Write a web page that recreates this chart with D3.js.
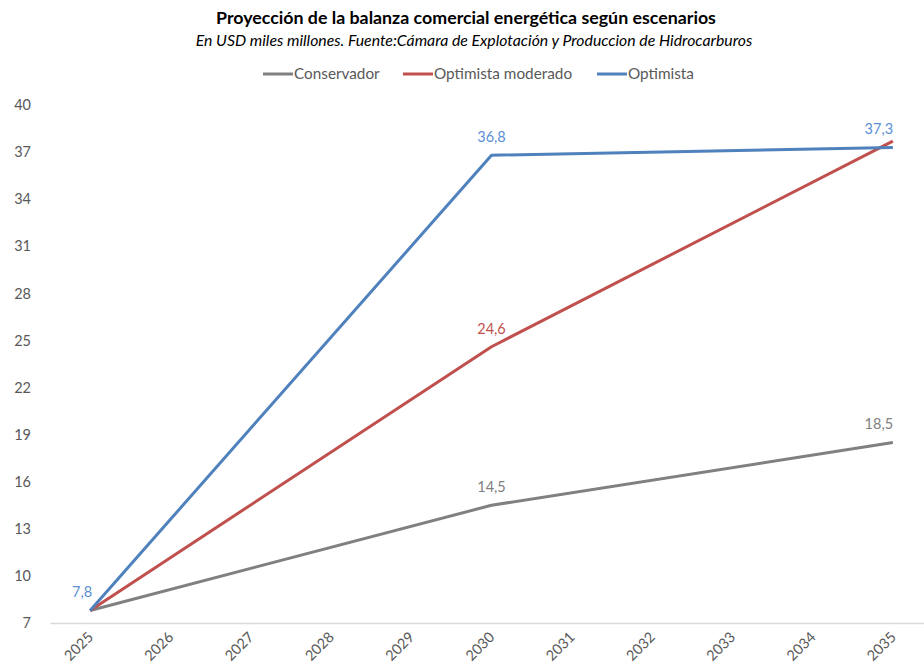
<!DOCTYPE html>
<html><head><meta charset="utf-8">
<script src="https://cdn.jsdelivr.net/npm/d3@7"></script>
<style>
html,body{margin:0;padding:0;background:#fff;}
svg{display:block;font-family:Lato,"Open Sans",sans-serif;}
</style></head>
<body><svg id="c" width="924" height="669"></svg>
<script>
const years = ["2025","2026","2027","2028","2029","2030","2031","2032","2033","2034","2035"];
const yTicks = [7,10,13,16,19,22,25,28,31,34,37,40];
const seriesNames = ["Conservador","Optimista moderado","Optimista"];
const seriesColors = ["#808080","#C0504D","#4F81BD"];
const labelColors = ["#808080","#C0504D","#5B8FD5"];
const pointYears = ["2025","2030","2035"];
const conservador = [7.8, 14.5, 18.5];
const optimistaModerado = [7.8, 24.6, 37.7];
const optimista = [7.8, 36.8, 37.3];
// which points carry labels (by index into pointYears)
const labelled = [[1,2],[1],[0,1,2]];

const svg = d3.select("#c");
const W = 924, H = 669;
const m = {left:50, right:-9, top:105, bottom:46};
const x = d3.scaleBand().domain(years).range([m.left, W - m.right]);
const y = d3.scaleLinear().domain([7,40]).range([623,105]);
const fmt = d3.formatLocale({decimal:",",thousands:".",grouping:[3],currency:["",""]}).format(".1f");

// title
svg.append("text").attr("x",466).attr("y",24).attr("text-anchor","middle")
  .attr("font-size",17.8).attr("font-weight","bold").attr("fill","#000")
  .text("Proyección de la balanza  comercial energética según escenarios");
svg.append("text").attr("x",474).attr("y",46).attr("text-anchor","middle")
  .attr("font-size",15.8).attr("font-style","italic").attr("fill","#000")
  .text("En USD miles millones. Fuente:Cámara de Explotación y Produccion de Hidrocarburos");

// legend
const leg = [{x:263},{x:403},{x:597}];
seriesNames.forEach((n,i)=>{
  const g = svg.append("g").attr("transform",`translate(${leg[i].x},74)`);
  g.append("line").attr("x1",0).attr("x2",30).attr("y1",0).attr("y2",0)
    .attr("stroke",seriesColors[i]).attr("stroke-width",3);
  g.append("text").attr("x",31).attr("y",5).attr("font-size",15.3).attr("fill","#595959").text(n);
});

// y axis labels
const ya = svg.append("g").attr("transform","translate(31,0)")
  .call(d3.axisLeft(y).tickValues(yTicks).tickSize(0).tickPadding(0));
ya.select(".domain").remove();
ya.selectAll("text").attr("font-size",14.5).attr("fill","#595959").attr("font-family","Lato,'Open Sans',sans-serif");

// x axis
const xa = svg.append("g").attr("transform","translate(0,623)")
  .call(d3.axisBottom(x).tickSize(0).tickPadding(0));
xa.select(".domain").attr("stroke","#d9d9d9").attr("stroke-width",1.3);
xa.selectAll("text").attr("font-size",14.5).attr("fill","#595959")
  .attr("font-family","Lato,'Open Sans',sans-serif")
  .attr("text-anchor","end").attr("dy",0)
  .attr("transform","translate(4,15) rotate(-45)");

// lines
const data = [conservador, optimistaModerado, optimista];
const line = d3.line().x((d,i)=>x(pointYears[i])+x.bandwidth()/2).y(d=>y(d));
data.forEach((s,i)=>{
  svg.append("path").attr("d",line(s)).attr("fill","none")
    .attr("stroke",seriesColors[i]).attr("stroke-width",3).attr("stroke-linejoin","round");
});
// labels
const labelDx = {0:-8,1:0,2:-14};
data.forEach((s,i)=>{
  labelled[i].forEach(k=>{
    svg.append("text").attr("x",x(pointYears[k])+x.bandwidth()/2+labelDx[k])
      .attr("y",y(s[k])-13).attr("text-anchor","middle").attr("font-size",14.5)
      .attr("fill",labelColors[i]).text(fmt(s[k]));
  });
});
</script></body></html>
